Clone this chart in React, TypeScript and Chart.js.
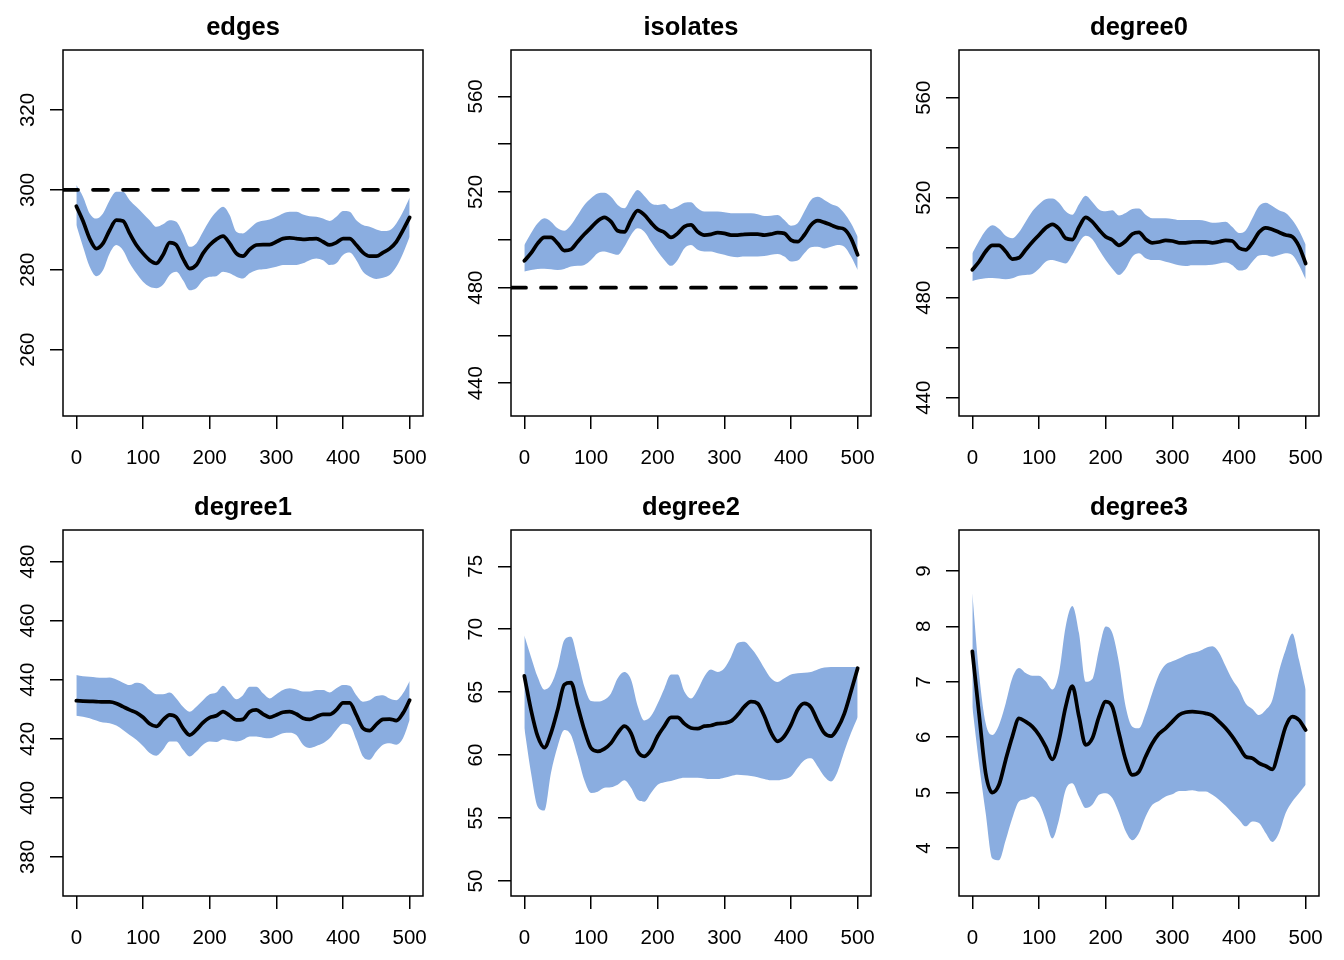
import React, { useEffect, useRef } from "react";
import { Chart, registerables } from "chart.js";

Chart.register(...registerables);

// ---------------- data ----------------
const X_VALUES = [0, 10, 20, 30, 40, 50, 60, 70, 80, 90, 100, 110, 120, 130, 140, 150, 160, 170, 180, 190, 200, 210, 220, 230, 240, 250, 260, 270, 280, 290, 300, 310, 320, 330, 340, 350, 360, 370, 380, 390, 400, 410, 420, 430, 440, 450, 460, 470, 480, 490, 500];
const X_TICKS = [0, 100, 200, 300, 400, 500];
const X_MIN = -20;
const X_MAX = 520;

const EDGES_MEAN = [295.9, 292.2, 287.8, 285.3, 286.6, 289.9, 292.4, 292.2, 289.1, 286.2, 284.1, 282.4, 281.6, 283.7, 286.8, 286.2, 282.8, 280.3, 281.2, 284.1, 286.2, 287.6, 288.4, 286.6, 284.1, 283.4, 285.1, 286.2, 286.3, 286.3, 287, 287.8, 288, 287.8, 287.6, 287.7, 287.8, 287, 286.2, 286.8, 287.8, 287.8, 286.2, 284.3, 283.4, 283.4, 284.3, 285.3, 287, 289.9, 293.1];
const EDGES_HI = [301.2, 298.3, 294.1, 292.8, 294.1, 297.4, 299.5, 299.5, 297.4, 295.75, 294.1, 292.4, 290.75, 291.4, 292.4, 292, 289.1, 285.75, 286.6, 289.5, 292.4, 294.5, 295.75, 293.7, 289.5, 289.1, 290.3, 291.75, 292.25, 292.6, 293.25, 294.1, 294.5, 294.5, 293.8, 293.4, 293.25, 292.8, 292.2, 293.25, 294.7, 294.5, 292.4, 291.2, 290.75, 290.1, 289.7, 289.9, 291.6, 294.5, 298.1];
const EDGES_LO = [291.2, 285.75, 280.75, 278.4, 279.9, 284.1, 286.2, 284.9, 281.6, 279.1, 277, 275.75, 275.4, 276.25, 278.7, 279.5, 277.4, 274.9, 275.4, 277.4, 278.25, 278.4, 279.5, 279.1, 278.25, 277.8, 279.1, 279.9, 280.1, 280.4, 280.75, 281.2, 281.2, 281.2, 281.6, 282.4, 282.8, 282.4, 281.2, 281.6, 283.7, 284.3, 282.4, 279.5, 278.25, 277.7, 278, 278.7, 280.75, 284.1, 288.25];

const ISOLATES_MEAN = [491.2, 494.4, 498.5, 501, 501, 498.5, 495.5, 496, 499.2, 502.3, 505.1, 507.9, 509.4, 507.6, 503.8, 503.3, 508.3, 512.2, 510.4, 507.2, 504.4, 503.1, 501, 502.7, 505.5, 506.2, 503.4, 502, 502.3, 503, 502.7, 502, 502, 502.3, 502.4, 502.4, 502, 502.4, 503, 502.7, 499.9, 499.2, 502, 506.2, 508, 507.3, 506.2, 505.1, 504.4, 500.6, 493.7];
const ISOLATES_HI = [497.8, 502.7, 506.9, 509, 507.6, 504.8, 503.8, 506.2, 510.4, 514.6, 517.4, 519.4, 519.7, 518, 514.6, 513.2, 517.4, 520.8, 518.3, 515.3, 514.6, 515, 512.9, 513.9, 515.5, 515.7, 513.2, 511.8, 511.8, 511.8, 511.5, 511.1, 511.1, 511.1, 511.1, 510.7, 510, 510.1, 510.4, 508.3, 505.9, 506.9, 511.8, 516.7, 518, 516.7, 515, 513.9, 511.1, 506.9, 501.3];
const ISOLATES_LO = [486.7, 487.4, 487.8, 487.9, 487.7, 487.4, 487.8, 488.8, 489.1, 489.5, 491.6, 494.4, 495.1, 494.4, 493.7, 497.1, 502, 504.8, 503.4, 499.2, 495.1, 491.6, 489.1, 491.6, 496.4, 497.8, 495.8, 495.1, 495.1, 494.4, 493.7, 493, 492.7, 493, 493, 493, 493.2, 493.7, 494.1, 493, 490.9, 491.3, 494.4, 496.9, 497.1, 496.4, 497.1, 497.8, 497.1, 493, 487.4];

const DEGREE0_MEAN = ISOLATES_MEAN;
const DEGREE0_HI = ISOLATES_HI;
const DEGREE0_LO = ISOLATES_LO;

const DEGREE1_MEAN = [432.9, 432.8, 432.7, 432.6, 432.5, 432.5, 432, 430.9, 429.8, 428.9, 427.3, 425.1, 424.2, 426.4, 428.1, 427.3, 423.6, 421.3, 423, 425.5, 427.2, 427.8, 429.2, 427.9, 426.4, 426.6, 429.2, 429.8, 428.4, 427.3, 428.1, 429, 429.2, 428.4, 427, 426.6, 427.5, 428.3, 428.3, 429.8, 432.2, 432.2, 428.1, 423.6, 422.8, 424.9, 426.6, 426.7, 426.2, 428.7, 433.1];
const DEGREE1_HI = [441.6, 441.2, 441, 440.8, 440.7, 440.8, 440.1, 439, 438.2, 439, 438.5, 436.5, 435.1, 435.1, 435.7, 433.7, 430.9, 429.2, 430.9, 433.1, 435.1, 435.7, 438, 435.7, 433.4, 434.8, 437.6, 437.6, 435.4, 433.7, 435.1, 436.5, 437.1, 436.7, 436, 436, 436.5, 436.5, 435.7, 437.1, 438.2, 438, 434.8, 432.6, 433.1, 434.5, 434.8, 433.7, 433.1, 435.4, 439.6];
const DEGREE1_LO = [427.8, 427.5, 427, 426.2, 425.5, 425.3, 424.5, 423, 421.3, 419.7, 417.6, 415.2, 414.3, 416.3, 419.1, 419.1, 416.3, 414, 415.7, 418, 419.1, 418.9, 419.9, 419.4, 419.1, 419.7, 420.8, 420.8, 420.4, 420.2, 421, 421.9, 422.1, 421.3, 418, 416.9, 417.6, 418.5, 420.2, 423, 425.1, 424.7, 419.7, 414, 412.9, 415.7, 418, 418.5, 418, 420.2, 426.4];

const DEGREE2_MEAN = [66.3, 63.6, 61.5, 60.6, 61.75, 63.6, 65.6, 65.75, 63.9, 62, 60.56, 60.3, 60.5, 60.95, 61.75, 62.3, 61.75, 60.3, 59.9, 60.4, 61.5, 62.3, 63, 63, 62.5, 62.15, 62.1, 62.3, 62.35, 62.5, 62.55, 62.7, 63.2, 63.85, 64.25, 64.1, 63.1, 61.8, 61.1, 61.5, 62.4, 63.6, 64.1, 63.8, 62.7, 61.75, 61.5, 62.15, 63.3, 65.05, 66.9];
const DEGREE2_HI = [69.5, 67.8, 66.2, 65.2, 65.6, 67, 69.15, 69.4, 67.6, 65.45, 64.3, 64.25, 64.4, 64.9, 66.1, 66.6, 66, 63.9, 62.75, 63.1, 64.1, 65.3, 66.4, 66.4, 65.05, 64.5, 65.2, 66.25, 66.8, 66.6, 66.9, 67.8, 68.9, 69, 68.5, 67.8, 66.9, 66.1, 65.8, 66.1, 66.4, 66.5, 66.55, 66.6, 66.8, 66.95, 67, 67, 67, 67, 67];
const DEGREE2_LO = [62.15, 58.6, 55.9, 55.6, 58.6, 60.7, 62, 61.6, 59.9, 58, 57, 57.1, 57.4, 57.45, 57.65, 58, 57.4, 56.45, 56.3, 57, 57.65, 57.85, 57.95, 58.1, 58.2, 58.2, 58.2, 58.15, 58.1, 58.1, 58.2, 58.35, 58.45, 58.4, 58.35, 58.25, 58.1, 58, 58, 58.1, 58.3, 59, 59.6, 59.75, 59.1, 58.3, 57.9, 58.7, 60.3, 61.75, 63];

const DEGREE3_MEAN = [7.55, 6.43, 5.35, 5.0, 5.14, 5.59, 6.01, 6.34, 6.28, 6.19, 6.04, 5.83, 5.6, 5.95, 6.55, 6.92, 6.37, 5.86, 5.98, 6.37, 6.64, 6.55, 6.07, 5.59, 5.32, 5.38, 5.65, 5.89, 6.06, 6.16, 6.28, 6.4, 6.45, 6.46, 6.45, 6.43, 6.39, 6.28, 6.16, 6.01, 5.83, 5.65, 5.62, 5.53, 5.48, 5.42, 5.77, 6.19, 6.37, 6.31, 6.13];
const DEGREE3_HI = [8.6, 7.16, 6.25, 6.04, 6.22, 6.61, 7.07, 7.25, 7.16, 7.11, 7.11, 7.01, 6.86, 7.16, 8, 8.37, 7.88, 7.0, 7.05, 7.58, 8, 7.88, 7.34, 6.55, 6.19, 6.16, 6.43, 6.8, 7.13, 7.31, 7.37, 7.42, 7.48, 7.52, 7.55, 7.61, 7.64, 7.53, 7.28, 7.04, 6.86, 6.61, 6.51, 6.4, 6.49, 6.67, 7.19, 7.58, 7.87, 7.4, 6.86];
const DEGREE3_LO = [6.55, 5.53, 4.63, 3.81, 3.78, 4.14, 4.54, 4.84, 4.88, 4.93, 4.81, 4.51, 4.17, 4.51, 5.05, 5.17, 4.93, 4.72, 4.78, 4.96, 4.99, 4.9, 4.63, 4.3, 4.14, 4.27, 4.57, 4.78, 4.85, 4.93, 4.97, 5.03, 5.03, 5.04, 5.02, 5.02, 4.96, 4.87, 4.76, 4.63, 4.51, 4.39, 4.48, 4.45, 4.27, 4.11, 4.27, 4.63, 4.84, 4.99, 5.14];

const TITLES = ["edges", "isolates", "degree0", "degree1", "degree2", "degree3"];
const Y_RANGES = [
  [243.4, 335.0],
  [426.3, 579.4],
  [432.7, 579.1],
  [366.8, 490.7],
  [48.81, 77.88],
  [3.133, 9.74],
];
const Y_TICKS = [
  [260, 280, 300, 320],
  [440, 460, 480, 500, 520, 540, 560],
  [440, 460, 480, 500, 520, 540, 560],
  [380, 400, 420, 440, 460, 480],
  [50, 55, 60, 65, 70, 75],
  [4, 5, 6, 7, 8, 9],
];
const Y_LABELS = [
  [260, 280, 300, 320],
  [440, 480, 520, 560],
  [440, 480, 520, 560],
  [380, 400, 420, 440, 460, 480],
  [50, 55, 60, 65, 70, 75],
  [4, 5, 6, 7, 8, 9],
];
const TARGETS: (number | null)[] = [300, 480, null, null, null, null];
const MEANS = [EDGES_MEAN, ISOLATES_MEAN, DEGREE0_MEAN, DEGREE1_MEAN, DEGREE2_MEAN, DEGREE3_MEAN];
const HIS = [EDGES_HI, ISOLATES_HI, DEGREE0_HI, DEGREE1_HI, DEGREE2_HI, DEGREE3_HI];
const LOS = [EDGES_LO, ISOLATES_LO, DEGREE0_LO, DEGREE1_LO, DEGREE2_LO, DEGREE3_LO];

// ---------------- style ----------------
const FONT = '"Liberation Sans", Arial, Helvetica, sans-serif';
const BAND = "#8AADE0";
const PANEL_W = 448;
const PANEL_H = 480;

function pts(arr: number[]) {
  return arr.map((y, i) => ({ x: X_VALUES[i], y }));
}

function makeChart(canvas: HTMLCanvasElement, i: number) {
  const title = TITLES[i];
  const yLabels = Y_LABELS[i];
  const yTicks = Y_TICKS[i];
  const target = TARGETS[i];

  const datasets: any[] = [
    {
      data: pts(MEANS[i]),
      borderColor: "#000",
      borderWidth: 3.75,
      pointRadius: 0,
      fill: false,
      cubicInterpolationMode: "monotone",
      borderCapStyle: "round",
      borderJoinStyle: "round",
    },
  ];
  if (target !== null) {
    datasets.push({
      data: [
        { x: X_MIN, y: target },
        { x: X_MAX, y: target },
      ],
      borderColor: "#000",
      borderWidth: 3.75,
      borderDash: [15, 15],
      borderCapStyle: "round",
      pointRadius: 0,
      fill: false,
    });
  }
  datasets.push({
    data: pts(HIS[i]),
    borderColor: "rgba(0,0,0,0)",
    borderWidth: 1,
    backgroundColor: BAND,
    pointRadius: 0,
    fill: "+1",
    cubicInterpolationMode: "monotone",
  });
  datasets.push({
    data: pts(LOS[i]),
    borderColor: "rgba(0,0,0,0)",
    borderWidth: 1,
    backgroundColor: BAND,
    pointRadius: 0,
    fill: false,
    cubicInterpolationMode: "monotone",
  });

  const decor = {
    id: "decor" + i,
    afterDraw(chart: any) {
      const { ctx, chartArea: a, scales } = chart;
      ctx.save();
      ctx.strokeStyle = "#000";
      ctx.lineWidth = 1.5;
      ctx.strokeRect(a.left, a.top, a.right - a.left, a.bottom - a.top);
      ctx.fillStyle = "#000";
      ctx.textAlign = "center";
      ctx.textBaseline = "alphabetic";
      ctx.font = `bold 25.5px ${FONT}`;
      ctx.fillText(title, (a.left + a.right) / 2, 35);
      ctx.font = `20.5px ${FONT}`;
      for (const v of X_TICKS) {
        ctx.fillText(String(v), scales.x.getPixelForValue(v), a.bottom + 47.5);
      }
      for (const v of yLabels) {
        ctx.save();
        ctx.translate(a.left - 29.5, scales.y.getPixelForValue(v));
        ctx.rotate(-Math.PI / 2);
        ctx.fillText(String(v), 0, 0);
        ctx.restore();
      }
      ctx.restore();
    },
  };

  return new Chart(canvas, {
    type: "line",
    data: { datasets },
    options: {
      animation: false,
      responsive: false,
      events: [],
      layout: { padding: { top: 50, right: 25, left: 0, bottom: 0 } },
      plugins: {
        legend: { display: false },
        tooltip: { enabled: false },
        title: { display: false },
      },
      scales: {
        x: {
          type: "linear",
          min: X_MIN,
          max: X_MAX,
          afterBuildTicks: (s: any) => {
            s.ticks = X_TICKS.map((v) => ({ value: v }));
          },
          afterFit: (s: any) => {
            s.height = 64;
          },
          ticks: { display: false },
          grid: {
            drawOnChartArea: false,
            drawTicks: true,
            tickLength: 13,
            color: "#000",
            lineWidth: 1.5,
          },
          border: { display: false },
        },
        y: {
          type: "linear",
          min: Y_RANGES[i][0],
          max: Y_RANGES[i][1],
          afterBuildTicks: (s: any) => {
            s.ticks = yTicks.map((v) => ({ value: v }));
          },
          afterFit: (s: any) => {
            s.width = 63;
          },
          ticks: { display: false },
          grid: {
            drawOnChartArea: false,
            drawTicks: true,
            tickLength: 13,
            color: "#000",
            lineWidth: 1.5,
          },
          border: { display: false },
        },
      },
    } as any,
    plugins: [decor],
  });
}

export default function App() {
  const refs = useRef<(HTMLCanvasElement | null)[]>([]);

  useEffect(() => {
    const charts: Chart[] = [];
    refs.current.forEach((c, i) => {
      if (c) charts.push(makeChart(c, i));
    });
    return () => {
      charts.forEach((ch) => ch.destroy());
    };
  }, []);

  return (
    <div
      style={{
        position: "absolute",
        left: 0,
        top: 0,
        width: 1344,
        height: 960,
        background: "#fff",
      }}
    >
      {TITLES.map((t, i) => (
        <canvas
          key={t}
          ref={(el) => {
            refs.current[i] = el;
          }}
          width={PANEL_W}
          height={PANEL_H}
          style={{
            position: "absolute",
            left: (i % 3) * PANEL_W,
            top: Math.floor(i / 3) * PANEL_H,
            width: PANEL_W,
            height: PANEL_H,
          }}
        />
      ))}
    </div>
  );
}
